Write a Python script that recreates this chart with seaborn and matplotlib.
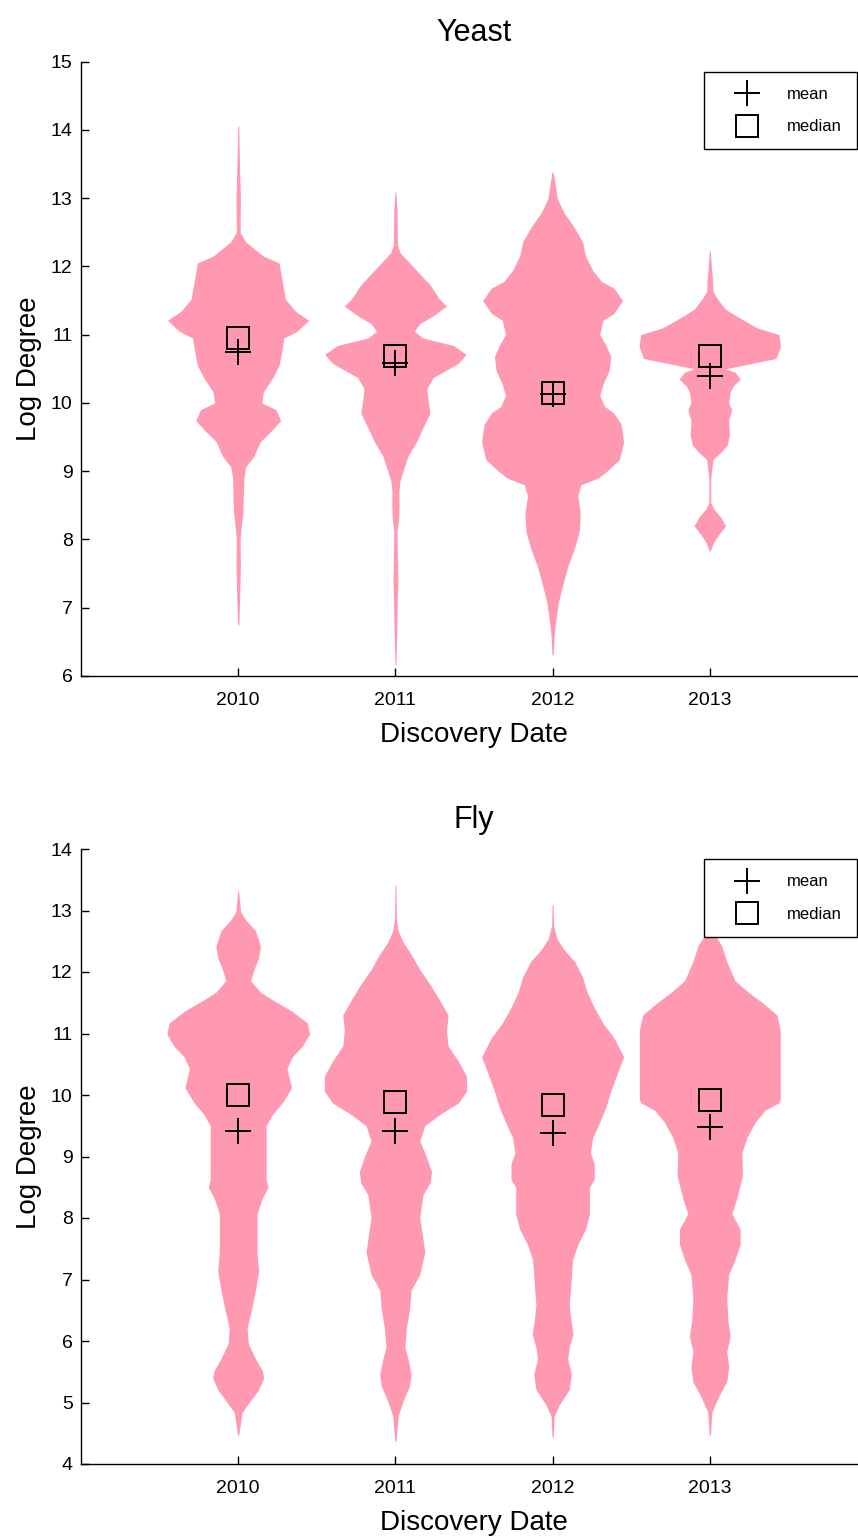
import numpy as np
import matplotlib
matplotlib.use('Agg')
import matplotlib.pyplot as plt
import seaborn as sns

# --- data: violin outlines (y level, half width) ---
years = ['2010', '2011', '2012', '2013']

yeast_2010_y = [6.75, 7.2, 7.6, 8.0, 8.2, 8.4, 8.9, 9.06, 9.22, 9.43, 9.59, 9.74, 9.9, 10.0, 10.16,
                10.37, 10.55, 10.79, 10.95, 11.05, 11.21, 11.34, 11.52, 11.78, 12.05, 12.15, 12.36,
                12.5, 13.0, 13.5, 14.06]
yeast_2010_w = [0.004, 0.01, 0.014, 0.012, 0.02, 0.03, 0.036, 0.047, 0.10, 0.14, 0.21, 0.27, 0.24,
                0.15, 0.16, 0.22, 0.26, 0.28, 0.29, 0.376, 0.45, 0.365, 0.30, 0.28, 0.26, 0.16, 0.047,
                0.012, 0.014, 0.008, 0.003]

yeast_2011_y = [6.16, 6.6, 7.13, 7.4, 7.8, 8.12, 8.3, 8.49, 8.7, 8.85, 9.01, 9.22, 9.43, 9.64, 9.85,
                10.0, 10.21, 10.37, 10.48, 10.58, 10.71, 10.84, 10.95, 11.05, 11.16, 11.29, 11.42,
                11.52, 11.73, 11.89, 12.05, 12.20, 12.31, 12.5, 12.83, 13.09]
yeast_2011_w = [0.003, 0.008, 0.012, 0.016, 0.012, 0.01, 0.02, 0.023, 0.022, 0.028, 0.05, 0.08, 0.134,
                0.176, 0.22, 0.21, 0.20, 0.24, 0.325, 0.40, 0.45, 0.37, 0.176, 0.12, 0.155, 0.25,
                0.325, 0.28, 0.22, 0.155, 0.09, 0.03, 0.013, 0.012, 0.01, 0.003]

yeast_2012_y = [6.31, 6.6, 6.81, 7.07, 7.33, 7.6, 7.86, 8.12, 8.38, 8.64, 8.8, 8.9, 9.01, 9.17, 9.43,
                9.69, 9.85, 9.95, 10.11, 10.27, 10.48, 10.68, 10.84, 11.0, 11.21, 11.31, 11.50, 11.68,
                11.78, 11.94, 12.15, 12.36, 12.57, 12.78, 12.99, 13.38]
yeast_2012_w = [0.004, 0.01, 0.02, 0.036, 0.064, 0.096, 0.138, 0.17, 0.176, 0.16, 0.18, 0.29, 0.35,
                0.425, 0.452, 0.435, 0.39, 0.33, 0.30, 0.32, 0.36, 0.37, 0.34, 0.30, 0.32, 0.39, 0.445,
                0.39, 0.31, 0.255, 0.21, 0.19, 0.138, 0.074, 0.03, 0.004]

yeast_2013_y = [7.83, 7.96, 8.07, 8.20, 8.33, 8.45, 8.54, 8.9, 9.17, 9.27, 9.38, 9.53, 9.74, 9.90,
                10.0, 10.16, 10.25, 10.35, 10.45, 10.50, 10.57, 10.65, 10.82, 11.0, 11.1, 11.23,
                11.37, 11.52, 11.63, 11.8, 12.0, 12.23]
yeast_2013_w = [0.003, 0.025, 0.057, 0.10, 0.068, 0.025, 0.006, 0.006, 0.02, 0.068, 0.11, 0.125, 0.12,
                0.14, 0.12, 0.13, 0.15, 0.195, 0.16, 0.10, 0.25, 0.42, 0.45, 0.44, 0.30, 0.20, 0.10,
                0.05, 0.02, 0.017, 0.01, 0.003]

fly_2010_y = [4.47, 4.84, 5.03, 5.21, 5.40, 5.52, 5.71, 5.96, 6.21, 6.52, 6.83, 7.14, 7.45, 8.07,
              8.32, 8.50, 8.63, 9.06, 9.50, 9.68, 9.87, 10.12, 10.43, 10.62, 10.80, 10.99, 11.17,
              11.36, 11.55, 11.67, 11.86, 12.04, 12.23, 12.42, 12.67, 12.85, 12.98, 13.32]
fly_2010_w = [0.004, 0.025, 0.079, 0.13, 0.163, 0.153, 0.11, 0.064, 0.057, 0.085, 0.11, 0.13, 0.12,
              0.12, 0.153, 0.19, 0.178, 0.178, 0.178, 0.217, 0.28, 0.34, 0.31, 0.344, 0.41, 0.454,
              0.44, 0.344, 0.217, 0.142, 0.079, 0.10, 0.13, 0.142, 0.11, 0.047, 0.015, 0.003]

fly_2011_y = [4.37, 4.78, 5.03, 5.27, 5.46, 5.71, 5.90, 6.21, 6.52, 6.83, 7.08, 7.45, 8.01, 8.38,
              8.57, 8.75, 9.00, 9.25, 9.50, 9.68, 9.87, 10.06, 10.31, 10.55, 10.80, 11.05, 11.30,
              11.55, 11.80, 12.04, 12.29, 12.48, 12.67, 12.85, 13.41]
fly_2011_w = [0.004, 0.017, 0.05, 0.09, 0.10, 0.08, 0.06, 0.07, 0.09, 0.10, 0.155, 0.187, 0.155,
              0.176, 0.22, 0.23, 0.197, 0.155, 0.187, 0.28, 0.40, 0.452, 0.452, 0.40, 0.335, 0.325,
              0.335, 0.28, 0.22, 0.155, 0.10, 0.05, 0.017, 0.006, 0.003]

fly_2012_y = [4.44, 4.78, 4.96, 5.21, 5.46, 5.71, 5.90, 6.11, 6.33, 6.58, 6.95, 7.32, 7.57, 7.82,
              8.07, 8.50, 8.63, 8.88, 9.06, 9.31, 9.56, 9.81, 10.06, 10.37, 10.62, 10.93, 11.17,
              11.42, 11.67, 11.92, 12.17, 12.36, 12.54, 12.76, 13.10]
fly_2012_w = [0.004, 0.01, 0.042, 0.106, 0.12, 0.096, 0.106, 0.13, 0.117, 0.106, 0.117, 0.127, 0.16,
              0.21, 0.235, 0.235, 0.265, 0.265, 0.24, 0.255, 0.30, 0.34, 0.37, 0.414, 0.452, 0.39,
              0.32, 0.265, 0.22, 0.19, 0.14, 0.074, 0.028, 0.006, 0.003]

fly_2013_y = [4.47, 4.84, 5.09, 5.34, 5.58, 5.83, 6.08, 6.33, 6.70, 7.08, 7.32, 7.57, 7.82, 8.07,
              8.32, 8.69, 9.06, 9.31, 9.56, 9.75, 9.87, 9.93, 10.49, 11.05, 11.30, 11.49, 11.67,
              11.86, 12.17, 12.42, 12.60, 12.91]
fly_2013_w = [0.004, 0.013, 0.055, 0.108, 0.12, 0.108, 0.13, 0.115, 0.108, 0.12, 0.16, 0.193, 0.193,
              0.14, 0.172, 0.208, 0.204, 0.236, 0.29, 0.35, 0.437, 0.448, 0.448, 0.448, 0.427, 0.34,
              0.246, 0.16, 0.108, 0.076, 0.034, 0.004]

yeast_mean = [10.74, 10.58, 10.13, 10.40]
yeast_median = [10.95, 10.68, 10.15, 10.68]
fly_mean = [9.42, 9.42, 9.39, 9.48]
fly_median = [10.0, 9.89, 9.83, 9.92]

# --- style ---
sns.set_style('ticks')
plt.rcParams['font.family'] = ['Liberation Sans', 'DejaVu Sans']
plt.rcParams.update({'text.color': 'black', 'axes.labelcolor': 'black',
                     'xtick.color': 'black', 'ytick.color': 'black',
                     'axes.edgecolor': 'black'})

pink = '#ff99b2'

fig = plt.figure(figsize=(8.58, 15.38), dpi=100)
ax_top = fig.add_axes([81 / 858, 1 - 676 / 1538, 786 / 858, 614.5 / 1538])
ax_bot = fig.add_axes([81 / 858, 1 - 1464 / 1538, 786 / 858, 615 / 1538])

panels = [
    (ax_top, 'Yeast', [(yeast_2010_y, yeast_2010_w), (yeast_2011_y, yeast_2011_w),
                       (yeast_2012_y, yeast_2012_w), (yeast_2013_y, yeast_2013_w)],
     yeast_mean, yeast_median, (6, 15)),
    (ax_bot, 'Fly', [(fly_2010_y, fly_2010_w), (fly_2011_y, fly_2011_w),
                     (fly_2012_y, fly_2012_w), (fly_2013_y, fly_2013_w)],
     fly_mean, fly_median, (4, 14)),
]

positions = np.arange(1, len(years) + 1)

for ax, title, outlines, means, medians, ylim in panels:
    for pos, (yy, ww) in zip(positions, outlines):
        yy = np.asarray(yy)
        ww = np.asarray(ww)
        ax.fill_betweenx(yy, pos - ww, pos + ww, color=pink, lw=0)

    ax.plot(positions, means, linestyle='none', marker='+', color='black',
            markersize=19, markeredgewidth=1.4, label='mean')
    ax.plot(positions, medians, linestyle='none', marker='s', color='black',
            markerfacecolor='none', markersize=16, markeredgewidth=1.4, label='median')

    ax.set_xlim(0, 5)
    ax.set_ylim(*ylim)
    ax.set_xticks(positions)
    ax.set_xticklabels(years)
    ax.set_yticks(range(ylim[0], ylim[1] + 1))
    ax.tick_params(direction='in', length=6, width=1, labelsize=14, color='black',
                   labelcolor='black')
    ax.tick_params(axis='x', pad=11.5)
    ax.tick_params(axis='y', pad=6)
    for side in ['left', 'bottom']:
        ax.spines[side].set_linewidth(1.0)
        ax.spines[side].set_color('black')
    sns.despine(ax=ax)

    ax.set_title(title, fontsize=22, pad=15, color='black')
    ax.set_xlabel('Discovery Date', fontsize=20, labelpad=9.5, color='black')
    ax.set_ylabel('Log Degree', fontsize=20, labelpad=6, color='black')

    leg = ax.legend(loc='upper right', bbox_to_anchor=(0.987, 0.983), borderaxespad=0,
                    fontsize=12, numpoints=1, handlelength=3.36, handletextpad=0.72,
                    labelspacing=1.05, borderpad=0.9, fancybox=False, framealpha=1,
                    edgecolor='black')
    leg.get_frame().set_linewidth(1.0)
    for txt in leg.get_texts():
        txt.set_color('black')

fig.savefig('out.png', dpi=100)
